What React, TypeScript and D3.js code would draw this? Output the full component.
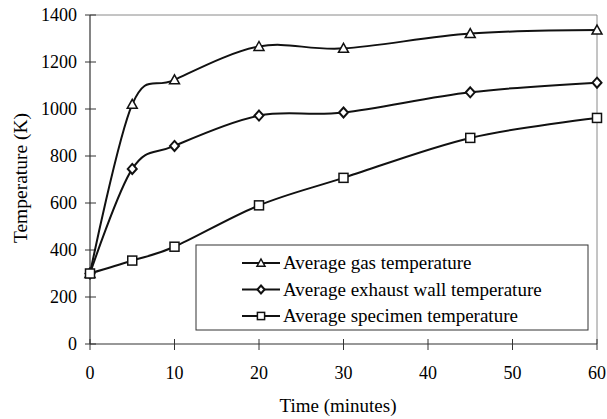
import React, { useEffect, useRef } from 'react';
import * as d3 from 'd3';

const times = [0, 5, 10, 20, 30, 45, 60];
const gasTemp = [300, 1020, 1124, 1266, 1258, 1321, 1336];
const wallTemp = [300, 745, 843, 972, 985, 1071, 1112];
const specimenTemp = [300, 355, 414, 590, 707, 877, 962];
const seriesNames = [
  'Average gas temperature',
  'Average exhaust wall temperature',
  'Average specimen temperature',
];
const xTicks = [0, 10, 20, 30, 40, 50, 60];
const yTicks = [0, 200, 400, 600, 800, 1000, 1200, 1400];

const FONT = "'Liberation Serif', 'Times New Roman', serif";

const App: React.FC = () => {
  const ref = useRef<SVGSVGElement>(null);

  useEffect(() => {
    const svg = d3.select(ref.current!);
    svg.selectAll('*').remove();

    const x = d3.scaleLinear().domain([0, 60]).range([90, 597]);
    const y = d3.scaleLinear().domain([0, 1400]).range([344, 15]);

    // frame (top and right) in light grey
    svg
      .append('path')
      .attr('d', `M${x(0)},${y(1400)}H${x(60)}V${y(0)}`)
      .attr('fill', 'none')
      .attr('stroke', '#8a8a8a')
      .attr('stroke-width', 1);

    // axes
    const g = svg.append('g');
    g.append('line')
      .attr('x1', x(0)).attr('x2', x(60))
      .attr('y1', y(0)).attr('y2', y(0))
      .attr('stroke', '#333').attr('stroke-width', 1.2);
    g.append('line')
      .attr('x1', x(0)).attr('x2', x(0))
      .attr('y1', y(0)).attr('y2', y(1400))
      .attr('stroke', '#333').attr('stroke-width', 1.2);

    xTicks.forEach((t) => {
      g.append('line')
        .attr('x1', x(t)).attr('x2', x(t))
        .attr('y1', y(0) - 5).attr('y2', y(0) + 6)
        .attr('stroke', '#333');
      g.append('text')
        .attr('x', x(t)).attr('y', y(0) + 35)
        .attr('text-anchor', 'middle')
        .attr('font-family', FONT).attr('font-size', 18)
        .text(t);
    });
    yTicks.forEach((t) => {
      g.append('line')
        .attr('x1', x(0) - 5).attr('x2', x(0) + 6)
        .attr('y1', y(t)).attr('y2', y(t))
        .attr('stroke', '#333');
      g.append('text')
        .attr('x', x(0) - 13).attr('y', y(t) + 6)
        .attr('text-anchor', 'end')
        .attr('font-family', FONT).attr('font-size', 18)
        .text(t);
    });

    svg.append('text')
      .attr('x', 338).attr('y', 412)
      .attr('text-anchor', 'middle')
      .attr('font-family', FONT).attr('font-size', 19)
      .text('Time (minutes)');
    svg.append('text')
      .attr('transform', 'translate(27,178) rotate(-90)')
      .attr('text-anchor', 'middle')
      .attr('font-family', FONT).attr('font-size', 19.5)
      .text('Temperature (K)');

    // markers
    const drawMarker = (sel: any, kind: number, cx: number, cy: number, s = 1) => {
      if (kind === 0) {
        sel.append('path')
          .attr('d', `M${cx},${cy - 5 * s}L${cx + 5 * s},${cy + 4 * s}L${cx - 5 * s},${cy + 4 * s}Z`)
          .attr('fill', 'white').attr('stroke', '#111').attr('stroke-width', 1.5);
      } else if (kind === 1) {
        sel.append('path')
          .attr('d', `M${cx},${cy - 5 * s}L${cx + 4.5 * s},${cy}L${cx},${cy + 5 * s}L${cx - 4.5 * s},${cy}Z`)
          .attr('fill', 'white').attr('stroke', '#111').attr('stroke-width', 2);
      } else {
        sel.append('rect')
          .attr('x', cx - 4.5 * s).attr('y', cy - 4.5 * s)
          .attr('width', 9 * s).attr('height', 9 * s)
          .attr('fill', 'white').attr('stroke', '#111').attr('stroke-width', 1.5);
      }
    };

    const series = [gasTemp, wallTemp, specimenTemp];
    const line = d3
      .line<number>()
      .x((_, i) => x(times[i]))
      .y((d) => y(d))
      .curve(d3.curveCardinal.tension(0));

    series.forEach((vals) => {
      svg.append('path')
        .attr('d', line(vals)!)
        .attr('fill', 'none')
        .attr('stroke', '#111')
        .attr('stroke-width', 2);
    });
    series.forEach((vals, k) => {
      vals.forEach((v, i) => drawMarker(svg, k, x(times[i]), y(v)));
    });

    // legend
    const lg = svg.append('g');
    lg.append('rect')
      .attr('x', 196).attr('y', 245)
      .attr('width', 392).attr('height', 85)
      .attr('fill', 'white').attr('stroke', '#333').attr('stroke-width', 1);
    seriesNames.forEach((name, k) => {
      const cy = 263 + k * 26.5;
      lg.append('line')
        .attr('x1', 242).attr('x2', 280)
        .attr('y1', cy).attr('y2', cy)
        .attr('stroke', '#111').attr('stroke-width', 2);
      drawMarker(lg, k, 261, cy, 0.8);
      lg.append('text')
        .attr('x', 283).attr('y', cy + 6)
        .attr('font-family', FONT).attr('font-size', 19)
        .text(name);
    });
  }, []);

  return (
    <div style={{ position: 'absolute', left: 0, top: 0 }}>
      <svg ref={ref} width={607} height={419} style={{ display: 'block', background: 'white' }} />
    </div>
  );
};

export default App;
